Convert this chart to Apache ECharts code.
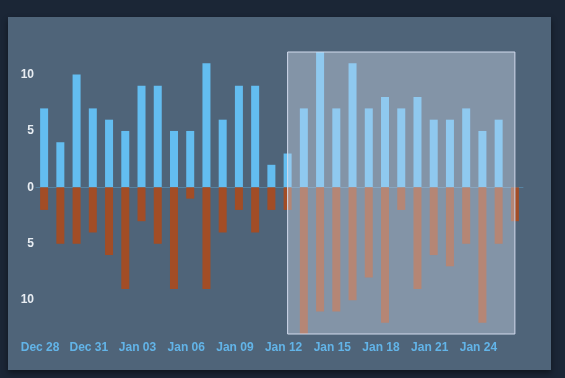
<!DOCTYPE html>
<html>
<head>
<meta charset="utf-8">
<script src="https://cdn.jsdelivr.net/npm/echarts@6/dist/echarts.min.js"></script>
<style>
  html, body { margin: 0; padding: 0; width: 565px; height: 378px; background: #1b2636; overflow: hidden; }
  #chart {
    position: absolute; left: 8px; top: 17px; width: 543px; height: 353px;
    background: #4f6479;
    box-shadow: 0 3px 6px rgba(0, 0, 0, 0.45);
  }
</style>
</head>
<body>
<div id="chart"></div>
<script>
// 日期（Dec 28 – Jan 26）
const days = [
    'Dec 28', 'Dec 29', 'Dec 30', 'Dec 31', 'Jan 01', 'Jan 02', 'Jan 03', 'Jan 04', 'Jan 05', 'Jan 06',
    'Jan 07', 'Jan 08', 'Jan 09', 'Jan 10', 'Jan 11', 'Jan 12', 'Jan 13', 'Jan 14', 'Jan 15', 'Jan 16',
    'Jan 17', 'Jan 18', 'Jan 19', 'Jan 20', 'Jan 21', 'Jan 22', 'Jan 23', 'Jan 24', 'Jan 25', 'Jan 26'
];

// 上方（蓝色）数值
const upValues = [7, 4, 10, 7, 6, 5, 9, 9, 5, 5, 11, 6, 9, 9, 2, 3, 7, 12, 7, 11, 7, 8, 7, 8, 6, 6, 7, 5, 6, 0];

// 下方（棕色）数值，绘制为负值
const downValues = [2, 5, 5, 4, 6, 9, 3, 5, 9, 1, 9, 4, 2, 4, 2, 2, 13, 11, 11, 10, 8, 12, 2, 9, 6, 7, 5, 12, 5, 3];

// 刷选范围（类目索引）
const brushRange = [15, 29];

const chart = echarts.init(document.getElementById('chart'));

const option = {
    animation: false,
    toolbox: {show: false},
    textStyle: {fontFamily: 'Liberation Sans'},
    grid: {left: 28, right: 28, top: 35, bottom: 36},
    brush: {
        xAxisIndex: 0,
        toolbox: ['lineX'],
        brushStyle: {
            borderWidth: 1,
            color: 'rgba(210, 219, 238, 0.4)',
            borderColor: '#d2dbee'
        },
        outOfBrush: {colorAlpha: 1}
    },
    xAxis: {
        type: 'category',
        data: days,
        axisLine: {lineStyle: {color: 'rgba(99, 189, 240, 0.35)'}},
        axisTick: {show: false},
        axisLabel: {
            interval: 2,
            color: '#62b4e8',
            fontSize: 12,
            fontWeight: 'bold',
            padding: [0, 8, 0, 0]
        }
    },
    yAxis: {
        type: 'value',
        min: -Math.max(...downValues),
        max: Math.max(...upValues),
        splitLine: {show: false},
        axisLine: {show: false},
        axisTick: {show: false},
        axisLabel: {
            color: '#e8edf2',
            fontSize: 12,
            fontWeight: 'bold',
            margin: 2,
            showMinLabel: false,
            showMaxLabel: false,
            formatter: v => Math.abs(v)
        }
    },
    series: [
        {
            name: 'up',
            type: 'bar',
            stack: 'total',
            barWidth: 8,
            itemStyle: {color: '#63bdf0'},
            data: upValues
        },
        {
            name: 'down',
            type: 'bar',
            stack: 'total',
            barWidth: 8,
            itemStyle: {color: '#a24d26'},
            data: downValues.map(v => -v)
        }
    ]
};

chart.setOption(option);
chart.dispatchAction({
    type: 'brush',
    areas: [{brushType: 'lineX', xAxisIndex: 0, coordRange: brushRange}]
});
</script>
</body>
</html>
